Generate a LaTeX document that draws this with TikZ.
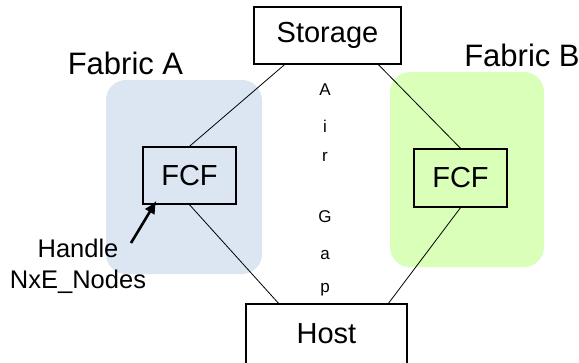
\documentclass[tikz,border=0pt]{standalone}
\usepackage{fontspec}
\usetikzlibrary{arrows.meta}
\setmainfont{Liberation Sans}
\definecolor{fabA}{RGB}{220,230,242}
\definecolor{fabB}{RGB}{217,255,184}
\begin{document}
\begin{tikzpicture}[x=1pt,y=-1pt,
  box/.style={draw=black,line width=1.4pt,fill=none,inner sep=0pt,font=\fontsize{29}{31}\selectfont},
  zone/.style={rounded corners=20pt,draw=none},
  link/.style={draw=black,line width=0.8pt},
  gap/.style={font=\fontsize{17}{19}\selectfont,inner sep=0pt},
  lbl/.style={font=\fontsize{31}{33}\selectfont,inner sep=0pt},
  note/.style={font=\fontsize{25.5}{31}\selectfont,inner sep=0pt,align=center}]
\useasboundingbox (0,0) rectangle (579,362);
\fill[white] (0,0) rectangle (579,362);
% fabric backgrounds
\fill[zone,fabA] (106,80) rectangle (262,274);
\fill[zone,fabB] (390,72) rectangle (544,267);
% boxes
\node[box,minimum width=147pt,minimum height=57pt] (storage) at (327.5,35.5) {Storage};
\node[box,minimum width=93pt,minimum height=57pt] (fcfa) at (189.5,175.5) {FCF};
\node[box,minimum width=93pt,minimum height=58pt] (fcfb) at (460.5,178) {FCF};
\node[box,minimum width=161pt,minimum height=60pt] (host) at (326.5,334) {Host};
% connections
\draw[link] ([xshift=-43pt]storage.south) -- (fcfa.north);
\draw[link] (fcfa.south) -- ([xshift=-48pt]host.north);
\draw[link] ([xshift=51pt]storage.south) -- (fcfb.north);
\draw[link] (fcfb.south) -- ([xshift=62pt]host.north);
% labels
\node[lbl] (fa) at (125.5,63) {Fabric A};
\node[lbl] (fb) at (522,55) {Fabric B};
\node[gap] (g1) at (325,90) {A};
\node[gap] (g2) at (325,126) {i};
\node[gap] (g3) at (325,157) {r};
\node[gap] (g4) at (325,217) {G};
\node[gap] (g5) at (325,255) {a};
\node[gap] (g6) at (325,290) {p};
\node[note] (h) at (78,266) {Handle\\NxE\_Nodes};
\coordinate (arrs) at (131,243);
\draw[line width=2.6pt,-{Latex[length=13pt,width=12pt]}] (arrs) -- ([xshift=-33pt,yshift=4pt]fcfa.south);
\end{tikzpicture}
\end{document}
